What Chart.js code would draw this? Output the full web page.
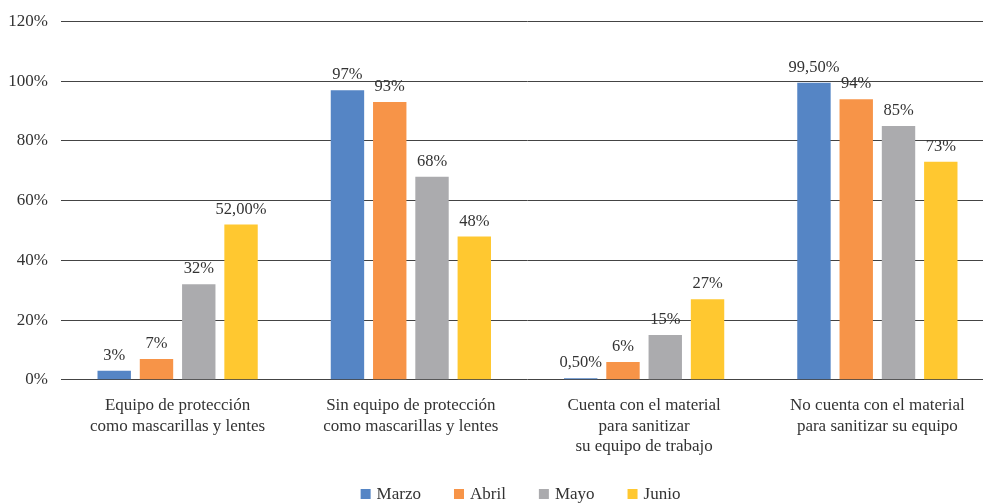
<!DOCTYPE html>
<html>
<head>
<meta charset="utf-8">
<script src="https://cdn.jsdelivr.net/npm/chart.js@4"></script>
<style>
  html, body { margin: 0; padding: 0; background: #fff; overflow: hidden; }
  #wrap { width: 997px; height: 504px; }
</style>
</head>
<body>
<div id="wrap"><canvas id="chart"></canvas></div>
<script>
// --- data ---
const categories = [
    ['Equipo de protección', 'como mascarillas y lentes'],
    ['Sin equipo de protección', 'como mascarillas y lentes'],
    ['Cuenta con el material', 'para sanitizar', 'su equipo de trabajo'],
    ['No cuenta con el material', 'para sanitizar su equipo']
];
const seriesNames = ['Marzo', 'Abril', 'Mayo', 'Junio'];
const marzo = [3, 97, 0.5, 99.5];
const abril = [7, 93, 6, 94];
const mayo = [32, 68, 15, 85];
const junio = [52, 48, 27, 73];
const marzoLabels = ['3%', '97%', '0,50%', '99,50%'];
const abrilLabels = ['7%', '93%', '6%', '94%'];
const mayoLabels = ['32%', '68%', '15%', '85%'];
const junioLabels = ['52,00%', '48%', '27%', '73%'];
const yTicks = [0, 20, 40, 60, 80, 100, 120];

const colors = ['#5585C5', '#F79448', '#ABABAE', '#FFC830'];
const values = [marzo, abril, mayo, junio];
const valueLabels = [marzoLabels, abrilLabels, mayoLabels, junioLabels];
const FONT = '"Liberation Serif", "DejaVu Serif", serif';

// --- value labels above bars ---
const barLabels = {
    id: 'barLabels',
    afterDatasetsDraw(chart) {
        const c = chart.ctx;
        c.save();
        c.font = '16.5px ' + FONT;
        c.fillStyle = '#333';
        c.textAlign = 'center';
        c.textBaseline = 'bottom';
        chart.data.datasets.forEach((ds, i) => {
            chart.getDatasetMeta(i).data.forEach((bar, j) => {
                c.fillText(valueLabels[i][j], bar.x, bar.y - 7);
            });
        });
        c.restore();
    }
};

// --- bottom legend, wider gaps than the built-in one allows ---
const bottomLegend = {
    id: 'bottomLegend',
    afterDraw(chart) {
        const c = chart.ctx;
        const y = 494, box = 10, gap = 6, spacing = 33;
        c.save();
        c.font = '17px ' + FONT;
        c.textBaseline = 'middle';
        const items = chart.data.datasets.map(ds => ({
            text: ds.label, color: ds.backgroundColor, w: box + gap + c.measureText(ds.label).width
        }));
        const total = items.reduce((s, it) => s + it.w, 0) + spacing * (items.length - 1);
        const mid = (chart.chartArea.left + chart.chartArea.right) / 2 - 7;
        let x = mid - total / 2;
        items.forEach(it => {
            c.fillStyle = it.color;
            c.fillRect(x, y - box / 2, box, box);
            c.fillStyle = '#333';
            c.fillText(it.text, x + box + gap, y + 1);
            x += it.w + spacing;
        });
        c.restore();
    }
};

new Chart(document.getElementById('chart'), {
    type: 'bar',
    data: {
        labels: categories,
        datasets: seriesNames.map((name, i) => ({
            label: name,
            data: values[i],
            backgroundColor: colors[i],
            barPercentage: 0.79,
            categoryPercentage: 0.725
        }))
    },
    options: {
        responsive: true,
        maintainAspectRatio: false,
        animation: false,
        layout: { padding: { top: 0, right: 3, left: 0, bottom: 39 } },
        plugins: {
            legend: { display: false },
            tooltip: { enabled: false }
        },
        scales: {
            y: {
                min: 0,
                max: 120,
                afterBuildTicks: (axis) => { axis.ticks = yTicks.map(v => ({ value: v })); },
                afterFit: (axis) => { axis.width = 61; },
                grid: { color: '#444', drawTicks: false },
                border: { display: false },
                ticks: {
                    color: '#333',
                    padding: 13,
                    font: { family: FONT, size: 17, lineHeight: 1 },
                    callback: (v) => v + '%'
                }
            },
            x: {
                grid: { display: false },
                border: { display: false },
                ticks: {
                    color: '#333',
                    padding: 8,
                    maxRotation: 0,
                    font: { family: FONT, size: 17, lineHeight: 1.2 }
                }
            }
        }
    },
    plugins: [barLabels, bottomLegend]
});
</script>
</body>
</html>
